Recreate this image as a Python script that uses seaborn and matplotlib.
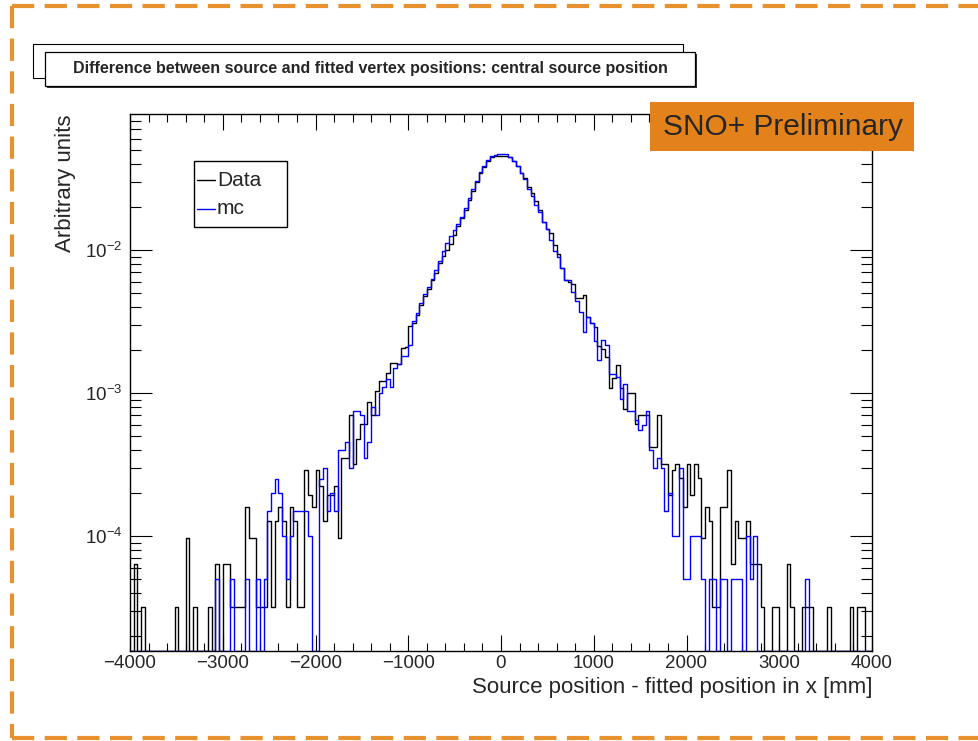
import numpy as np
import pandas as pd
import matplotlib
matplotlib.use("Agg")
import matplotlib.pyplot as plt
from matplotlib.patches import Rectangle
from matplotlib.lines import Line2D
from matplotlib.ticker import MultipleLocator, LogLocator, NullFormatter
import seaborn as sns

# Histogram binning in mm: 200 bins of 40 mm
bin_lo, bin_hi, n_bins = -4000, 4000, 200

# Entries per bin (source position - fitted position in x)
data_counts = [
    0, 2, 0, 1, 0, 0, 0, 0, 0, 0, 0, 0, 1, 0, 0, 3, 0, 1, 0, 0,
    0, 1, 0, 2, 0, 2, 2, 1, 1, 1, 1, 5, 3, 3, 1, 1, 1, 4, 1, 4,
    5, 4, 1, 5, 4, 1, 1, 9, 6, 5, 9, 7, 4, 6, 6, 7, 3, 11, 11, 22,
    10, 15, 19, 19, 27, 22, 32, 38, 38, 43, 51, 51, 50, 64, 65, 92, 97, 109, 129, 149,
    167, 192, 215, 255, 285, 310, 345, 395, 460, 520, 594, 704, 811, 930, 1080, 1180, 1300, 1390, 1410, 1430,
    1420, 1420, 1387, 1310, 1205, 1076, 989, 858, 788, 684, 594, 487, 435, 411, 338, 293, 234, 192, 187, 180,
    145, 145, 151, 106, 97, 90, 67, 63, 56, 34, 40, 49, 34, 24, 31, 31, 19, 22, 22, 22,
    13, 13, 22, 10, 10, 6, 9, 10, 8, 5, 10, 6, 10, 8, 3, 5, 4, 1, 1, 5,
    5, 9, 2, 4, 3, 3, 4, 2, 2, 2, 1, 0, 0, 1, 1, 0, 0, 2, 1, 0,
    0, 1, 1, 1, 0, 0, 0, 0, 1, 0, 0, 0, 0, 0, 1, 0, 1, 1, 0, 0,
]

mc_counts = [
    0, 0, 0, 0, 0, 0, 0, 0, 0, 0, 0, 0, 0, 0, 0, 0, 0, 0, 0, 0,
    0, 0, 0, 1, 0, 0, 0, 1, 0, 0, 0, 1, 0, 0, 1, 0, 1, 3, 4, 5,
    4, 2, 1, 2, 3, 3, 3, 3, 2, 0, 0, 5, 6, 3, 4, 3, 8, 8, 9, 6,
    15, 15, 14, 7, 9, 16, 14, 20, 22, 25, 22, 30, 32, 36, 36, 43, 64, 72, 85, 98,
    110, 126, 145, 168, 198, 225, 250, 275, 305, 340, 391, 463, 533, 610, 700, 775, 850, 905, 925, 940,
    935, 930, 887, 838, 770, 688, 631, 533, 476, 413, 369, 312, 279, 235, 198, 177, 150, 123, 123, 101,
    88, 74, 53, 68, 62, 46, 34, 47, 43, 27, 27, 26, 18, 23, 15, 15, 13, 11, 12, 15,
    8, 6, 7, 6, 3, 4, 2, 2, 6, 1, 1, 2, 2, 2, 1, 0, 1, 1, 0, 1,
    1, 0, 1, 1, 1, 0, 2, 1, 2, 0, 0, 0, 0, 0, 0, 0, 0, 0, 0, 0,
    0, 0, 1, 0, 0, 0, 0, 0, 0, 0, 0, 0, 0, 0, 0, 0, 0, 0, 0, 0,
]

series_names = ["Data", "mc"]
series_colors = ["black", "blue"]

title_text = "Difference between source and fitted vertex positions: central source position"
x_title = "Source position - fitted position in x [mm]"
y_title = "Arbitrary units"
badge_text = "SNO+ Preliminary"

W, H = 979, 741
sns.set_style("ticks")
plt.rcParams["font.family"] = ["Liberation Sans", "DejaVu Sans"]
plt.rcParams["mathtext.fontset"] = "custom"
plt.rcParams["mathtext.rm"] = "Liberation Sans"
plt.rcParams["mathtext.it"] = "Liberation Sans:italic"
plt.rcParams["mathtext.bf"] = "Liberation Sans:bold"
plt.rcParams["lines.scale_dashes"] = False

fig = plt.figure(figsize=(W / 100, H / 100), dpi=100)
fig.patch.set_facecolor("white")


def fx(px):
    return px / W


def fy(py):
    return 1 - py / H


ax = fig.add_axes([fx(130), fy(651), fx(872) - fx(130), fy(114) - fy(651)])
ax.set_facecolor("white")

edges = np.linspace(bin_lo, bin_hi, n_bins + 1)
y_lo, y_hi = 1.57e-5, 0.0894

for name, counts, color in zip(series_names, [data_counts, mc_counts], series_colors):
    counts = np.asarray(counts, dtype=float)
    norm = counts / counts.sum()
    step_y = np.append(norm, norm[-1])
    # empty bins are drawn along the lower frame edge
    step_y = np.where(step_y > 0, step_y, y_lo)
    frame = pd.DataFrame({"x": edges, "y": step_y})
    sns.lineplot(data=frame, x="x", y="y", ax=ax, color=color, lw=1.0,
                 drawstyle="steps-post", estimator=None, sort=False, legend=False)

ax.set_yscale("log")
ax.set_xlim(bin_lo, bin_hi)
ax.set_ylim(y_lo, y_hi)
ax.set_xlabel("")
ax.set_ylabel("")

ax.xaxis.set_major_locator(MultipleLocator(1000))
ax.xaxis.set_minor_locator(MultipleLocator(200))
ax.yaxis.set_major_locator(LogLocator(base=10, numticks=12))
ax.yaxis.set_minor_locator(LogLocator(base=10, subs=np.arange(2, 10), numticks=12))
ax.yaxis.set_minor_formatter(NullFormatter())

ax.tick_params(which="both", direction="in", top=True, right=True, width=0.8, color="black")
ax.tick_params(axis="x", which="major", length=11.5, labelsize=13.5, pad=3)
ax.tick_params(axis="x", which="minor", length=5.8)
ax.tick_params(axis="y", which="major", length=15.8, labelsize=13.5, pad=5.5)
ax.tick_params(axis="y", which="minor", length=7.9)
for sp in ax.spines.values():
    sp.set_linewidth(1.0)
    sp.set_color("black")
    sp.set_visible(True)

# axis titles
fig.text(fx(872), fy(688), x_title, ha="right", va="center", fontsize=16)
fig.text(fx(66), fy(114), y_title, ha="center", va="top", rotation=90, fontsize=16)

# legend box
fig.add_artist(Rectangle((fx(194), fy(227)), fx(287) - fx(194), fy(161) - fy(227),
                         transform=fig.transFigure, facecolor="white", edgecolor="black", lw=1.0, zorder=5))
for name, color, yy in zip(series_names, series_colors, [180, 209]):
    fig.add_artist(Line2D([fx(197), fx(215)], [fy(yy), fy(yy)], transform=fig.transFigure,
                          color=color, lw=1.0, zorder=6))
    fig.text(fx(217), fy(yy), name, ha="left", va="center", fontsize=15, zorder=6)

# experiment badge
fig.add_artist(Rectangle((fx(650), fy(151)), fx(914) - fx(650), fy(102) - fy(151),
                         transform=fig.transFigure, facecolor="#E3821A", edgecolor="none", zorder=5))
fig.text(fx(783), fy(127), badge_text, ha="center", va="center", fontsize=21.5, zorder=6)

# title pave with its shadowed frame
fig.add_artist(Rectangle((fx(33), fy(78)), fx(683) - fx(33), fy(44) - fy(78),
                         transform=fig.transFigure, facecolor="white", edgecolor="black", lw=0.8, zorder=4))
fig.add_artist(Rectangle((fx(47), fy(88)), fx(697) - fx(47), fy(54) - fy(88),
                         transform=fig.transFigure, facecolor="#333333", edgecolor="none", zorder=5))
fig.add_artist(Rectangle((fx(45), fy(86)), fx(695) - fx(45), fy(52) - fy(86),
                         transform=fig.transFigure, facecolor="white", edgecolor="black", lw=0.9, zorder=6))
fig.text(fx(370), fy(69), title_text, ha="center", va="center", fontsize=11.5,
         fontweight="bold", zorder=7)

# dashed outer border
border_kw = dict(transform=fig.transFigure, color="#E8912F", lw=3.0, dashes=(16, 7.5), zorder=8)
fig.add_artist(Line2D([fx(12), fx(12)], [fy(6), fy(738)], **border_kw))
fig.add_artist(Line2D([fx(12), fx(979)], [fy(6), fy(6)], **border_kw))
fig.add_artist(Line2D([fx(12), fx(979)], [fy(738), fy(738)], **border_kw))

fig.savefig("out.png", dpi=100, facecolor="white")
